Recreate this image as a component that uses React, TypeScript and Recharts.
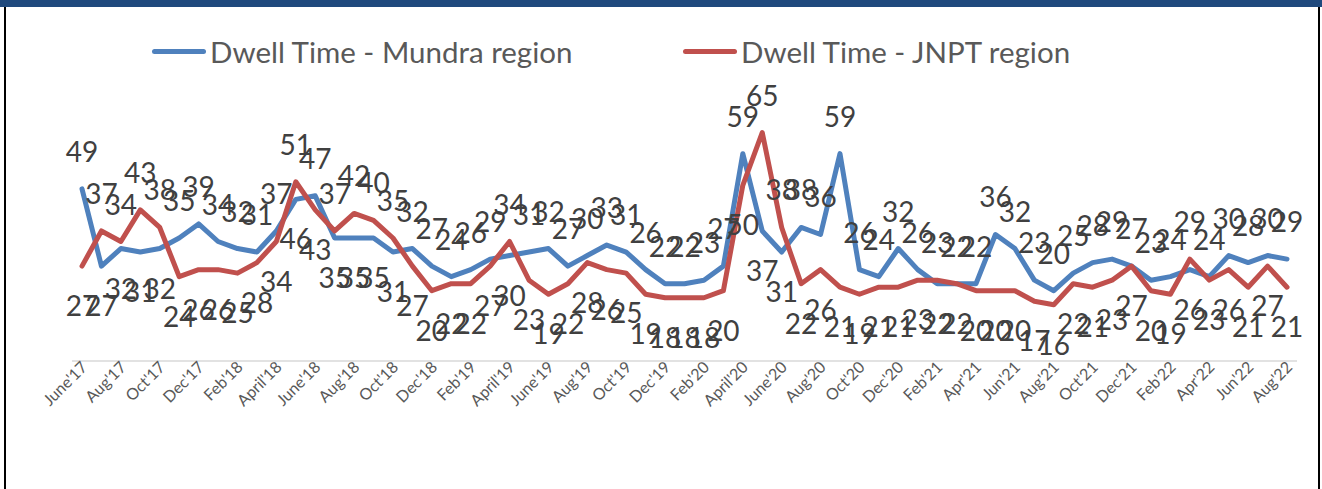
import React from 'react';
import { LineChart, Line, XAxis, YAxis, LabelList } from 'recharts';

// month categories, June'17 .. Aug'22 (63 points)
const months = [
  "June'17", "July'17", "Aug'17", "Sep'17", "Oct'17", "Nov'17", "Dec'17", "Jan'18",
  "Feb'18", "Mar'18", "April'18", "May'18", "June'18", "July'18", "Aug'18", "Sep'18",
  "Oct'18", "Nov'18", "Dec'18", "Jan'19", "Feb'19", "Mar'19", "April'19", "May'19",
  "June'19", "July'19", "Aug'19", "Sep'19", "Oct'19", "Nov'19", "Dec'19", "Jan'20",
  "Feb'20", "Mar'20", "April'20", "May'20", "June'20", "July'20", "Aug'20", "Sep'20",
  "Oct'20", "Nov'20", "Dec'20", "Jan'21", "Feb'21", "Mar'21", "Apr'21", "May'21",
  "Jun'21", "Jul'21", "Aug'21", "Sep'21", "Oct'21", "Nov'21", "Dec'21", "Jan'22",
  "Feb'22", "Mar'22", "Apr'22", "May'22", "Jun'22", "Jul'22", "Aug'22",
];

const mundra = [
  49, 27, 32, 31, 32, 35, 39, 34, 32, 31, 37, 46, 47, 35, 35, 35,
  31, 32, 27, 24, 26, 29, 30, 31, 32, 27, 30, 33, 31, 26, 22, 22,
  23, 27, 59, 37, 31, 38, 36, 59, 26, 24, 32, 26, 22, 22, 22, 36,
  32, 23, 20, 25, 28, 29, 27, 23, 24, 26, 24, 30, 28, 30, 29,
];

const jnpt = [
  27, 37, 34, 43, 38, 24, 26, 26, 25, 28, 34, 51, 43, 37, 42, 40,
  35, 27, 20, 22, 22, 27, 34, 23, 19, 22, 28, 26, 25, 19, 18, 18,
  18, 20, 50, 65, 38, 22, 26, 21, 19, 21, 21, 23, 23, 22, 20, 20,
  20, 17, 16, 22, 21, 23, 27, 20, 19, 29, 23, 26, 21, 27, 21,
];

const data = months.map((m, i) => ({ month: m, mundra: mundra[i], jnpt: jnpt[i] }));

const BLUE = '#4F81BD';
const RED = '#C0504D';
const FONT = 'Lato, "Open Sans", sans-serif';

// label goes above the point for the higher series, below for the lower one
const makeLabel = (own: number[], other: number[], preferAbove: boolean) => (props: any) => {
  const { x, y, index, value } = props;
  const a = own[index];
  const b = other[index];
  const above = a > b || (a === b && preferAbove);
  return (
    <text
      x={x}
      y={above ? y - 27 : y + 50}
      textAnchor="middle"
      fill="#404040"
      fontSize={28}
      fontFamily={FONT}
    >
      {value}
    </text>
  );
};

const MonthTick = ({ x, y, payload }: any) => (
  <g transform={`translate(${x},${y})`}>
    <text
      x={5}
      y={4}
      textAnchor="end"
      transform="rotate(-45)"
      fill="#595959"
      fontSize={16}
      fontFamily={FONT}
    >
      {payload.value}
    </text>
  </g>
);

const LegendItem = ({ color, text, width }: { color: string; text: string; width: number }) => (
  <div style={{ display: 'flex', alignItems: 'center', width }}>
    <div style={{ width: 54, height: 5, background: color, borderRadius: 3, marginRight: 4 }} />
    <span style={{ fontSize: 29.5, color: '#595959', fontFamily: FONT }}>{text}</span>
  </div>
);

export default function App() {
  return (
    <div style={{ position: 'absolute', left: 0, top: 0, width: 1322, height: 489, background: '#fff', overflow: 'hidden' }}>
      <div style={{ position: 'absolute', left: 0, top: 0, width: 1322, height: 7, background: '#1F497D' }} />
      <div style={{ position: 'absolute', left: 4, top: 7, width: 2, height: 482, background: '#000' }} />
      <div style={{ position: 'absolute', left: 1318, top: 7, width: 2, height: 482, background: '#000' }} />
      <div style={{ position: 'absolute', left: 152, top: 34, display: 'flex' }}>
        <LegendItem color={BLUE} text="Dwell Time - Mundra region" width={531} />
        <LegendItem color={RED} text="Dwell Time - JNPT region" width={420} />
      </div>
      <div style={{ position: 'absolute', left: 0, top: 0 }}>
        <LineChart width={1322} height={489} data={data} margin={{ top: 115, right: 25, left: 72, bottom: 0 }}>
          <XAxis
            dataKey="month"
            interval={1}
            tickLine={false}
            axisLine={{ stroke: '#D9D9D9', strokeWidth: 1.5 }}
            tick={<MonthTick />}
            height={128}
            padding={{ left: 10, right: 10 }}
          />
          <YAxis hide width={0} domain={[0, 70]} />
          <Line
            type="linear"
            dataKey="mundra"
            stroke={BLUE}
            strokeWidth={5}
            strokeLinejoin="round"
            strokeLinecap="round"
            dot={false}
            isAnimationActive={false}
          >
            <LabelList dataKey="mundra" content={makeLabel(mundra, jnpt, true)} />
          </Line>
          <Line
            type="linear"
            dataKey="jnpt"
            stroke={RED}
            strokeWidth={5}
            strokeLinejoin="round"
            strokeLinecap="round"
            dot={false}
            isAnimationActive={false}
          >
            <LabelList dataKey="jnpt" content={makeLabel(jnpt, mundra, false)} />
          </Line>
        </LineChart>
      </div>
    </div>
  );
}
